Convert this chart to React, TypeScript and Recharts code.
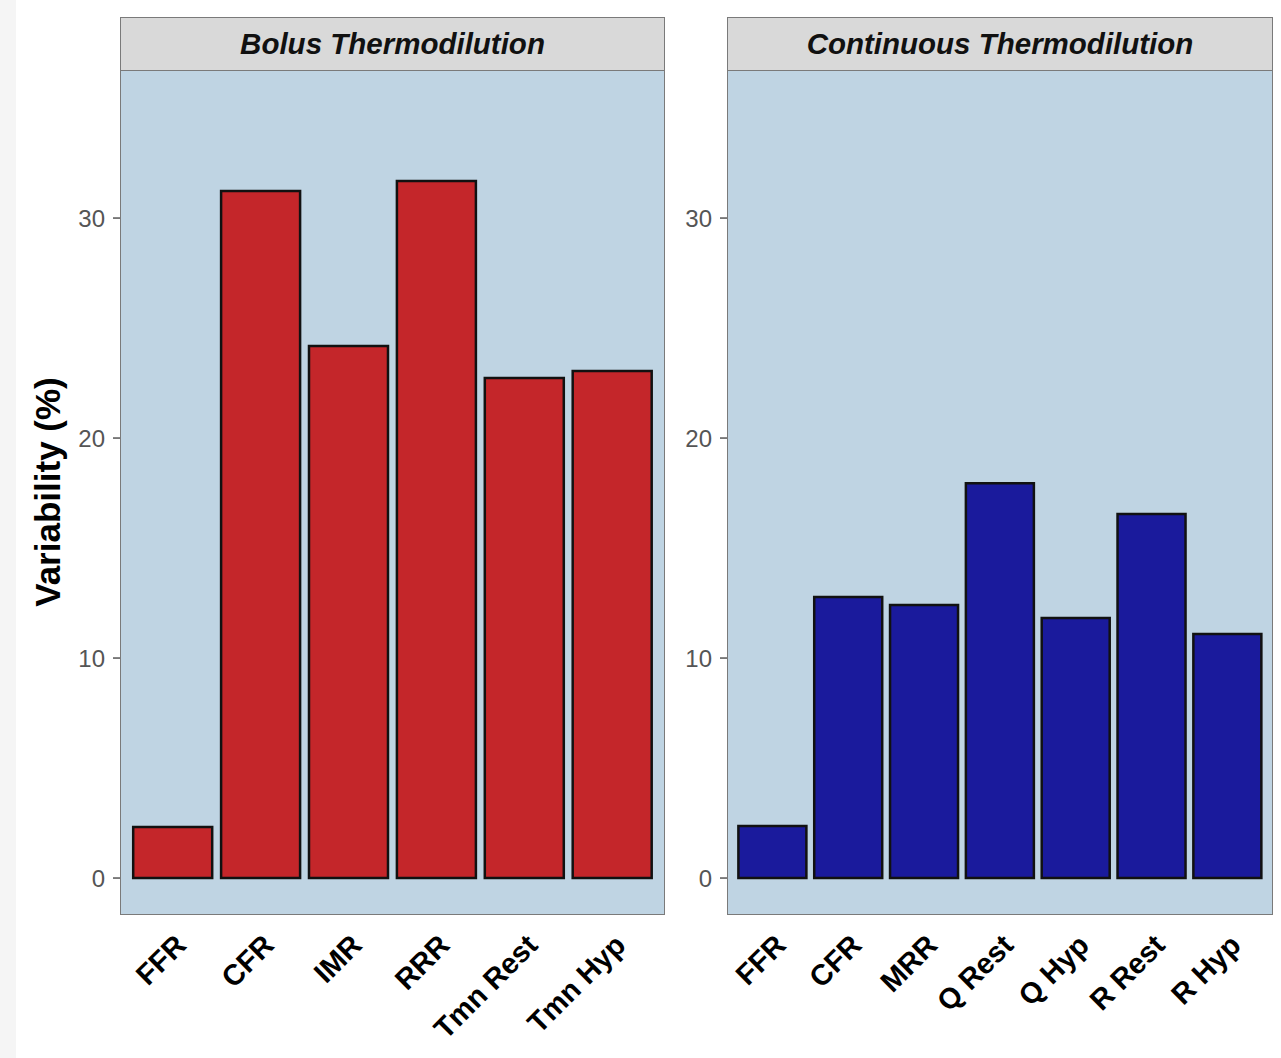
import { BarChart, Bar, XAxis, YAxis, CartesianGrid } from 'recharts'

const bolusCategories = ['FFR', 'CFR', 'IMR', 'RRR', 'Tmn Rest', 'Tmn Hyp']
const bolusValues = [2.32, 31.23, 24.18, 31.68, 22.73, 23.05]

const continuousCategories = ['FFR', 'CFR', 'MRR', 'Q Rest', 'Q Hyp', 'R Rest', 'R Hyp']
const continuousValues = [2.36, 12.77, 12.41, 17.95, 11.82, 16.55, 11.09]

const yTicks = [0, 10, 20, 30]
const yDomain: [number, number] = [-1.68, 36.73]

const FONT = '"Liberation Sans", Arial, Helvetica, sans-serif'
const PANEL_BG = '#bfd4e3'
const BORDER = '#7a7a7a'

const AngledTick = (props: any) => {
  const { x, y, payload } = props
  const tx = x + 15
  const ty = y + 32
  return (
    <text
      x={tx}
      y={ty}
      transform={`rotate(-45, ${tx}, ${ty})`}
      textAnchor="end"
      fontSize={29}
      fontWeight="bold"
      fontFamily={FONT}
      fill="#000"
    >
      {payload.value}
    </text>
  )
}

type PanelProps = {
  title: string
  categories: string[]
  values: number[]
  color: string
  left: number
  width: number
  margin: { top: number; right: number; bottom: number; left: number }
  pad: number
}

function Panel({ title, categories, values, color, left, width, margin, pad }: PanelProps) {
  const data = categories.map((name, i) => ({ name, value: values[i] }))
  const plotLeft = left + margin.left + 60
  const plotWidth = width - margin.left - 60 - margin.right
  return (
    <>
      <div
        style={{
          position: 'absolute',
          left: plotLeft,
          top: 17,
          width: plotWidth,
          height: 54,
          boxSizing: 'border-box',
          background: '#d9d9d9',
          border: `1.5px solid ${BORDER}`,
          display: 'flex',
          alignItems: 'center',
          justifyContent: 'center',
          fontFamily: FONT,
          fontWeight: 'bold',
          fontStyle: 'italic',
          fontSize: 29.5,
          color: '#111',
        }}
      >
        {title}
      </div>
      <div style={{ position: 'absolute', left, top: 0 }}>
        <BarChart width={width} height={1058} data={data} margin={margin} barCategoryGap="5%">
          <CartesianGrid horizontal={false} vertical={false} fill={PANEL_BG} />
          <XAxis
            dataKey="name"
            type="category"
            height={100}
            padding={{ left: pad, right: pad }}
            axisLine={false}
            tickLine={false}
            tickSize={0}
            tickMargin={0}
            interval={0}
            tick={<AngledTick />}
          />
          <YAxis
            type="number"
            domain={yDomain}
            allowDataOverflow
            ticks={yTicks}
            width={60}
            axisLine={false}
            tickSize={7}
            tickMargin={8}
            tickLine={{ stroke: '#555', strokeWidth: 1.5 }}
            tick={{ fontSize: 24, fill: '#555', fontFamily: FONT }}
          />
          <Bar dataKey="value" fill={color} stroke="#111" strokeWidth={2.5} isAnimationActive={false} />
        </BarChart>
      </div>
      <div
        style={{
          position: 'absolute',
          left: plotLeft,
          top: 70,
          width: plotWidth,
          height: 845,
          boxSizing: 'border-box',
          border: `1.5px solid ${BORDER}`,
          pointerEvents: 'none',
        }}
      />
    </>
  )
}

export default function App() {
  return (
    <div
      style={{
        position: 'absolute',
        left: 0,
        top: 0,
        width: 1281,
        height: 1058,
        background: '#fff',
        overflow: 'hidden',
      }}
    >
      <div style={{ position: 'absolute', left: 0, top: 0, width: 16, height: 1058, background: '#f5f5f5' }} />
      <div
        style={{
          position: 'absolute',
          left: 48 - 200,
          top: 492 - 20,
          width: 400,
          height: 40,
          lineHeight: '40px',
          textAlign: 'center',
          transform: 'rotate(-90deg)',
          fontFamily: FONT,
          fontWeight: 'bold',
          fontSize: 35,
          color: '#000',
        }}
      >
        Variability (%)
      </div>
      <Panel
        title="Bolus Thermodilution"
        categories={bolusCategories}
        values={bolusValues}
        color="#c4262a"
        left={0}
        width={700}
        margin={{ top: 70, right: 35, bottom: 43, left: 60 }}
        pad={8.8}
      />
      <Panel
        title="Continuous Thermodilution"
        categories={continuousCategories}
        values={continuousValues}
        color="#1a1a9c"
        left={640}
        width={641}
        margin={{ top: 70, right: 8, bottom: 43, left: 27 }}
        pad={7.6}
      />
    </div>
  )
}
